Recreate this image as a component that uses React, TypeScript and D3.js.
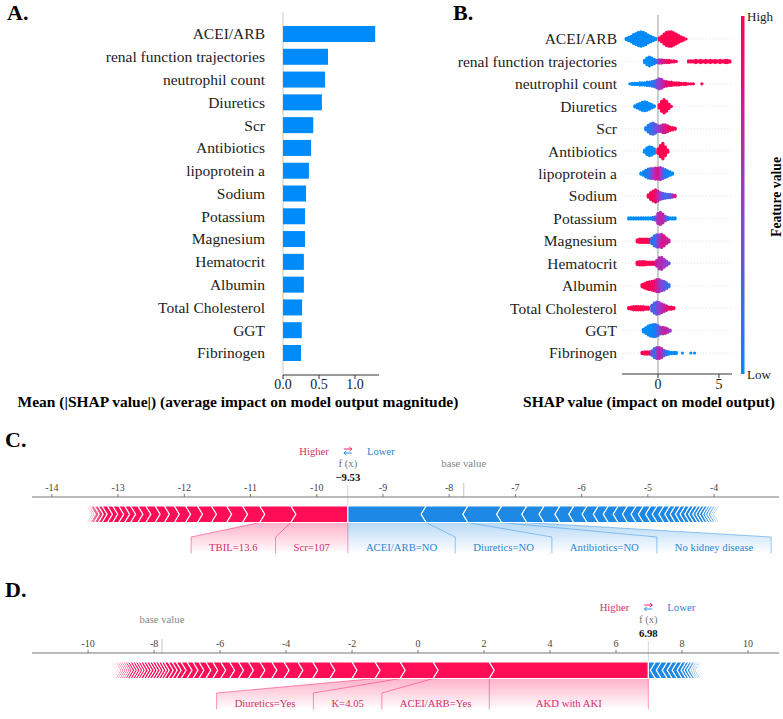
import React from "react";
import * as d3 from "d3";

// ---------- Panel A / B data ----------
const FEATURES = [
  "ACEI/ARB", "renal function trajectories", "neutrophil count", "Diuretics", "Scr",
  "Antibiotics", "lipoprotein a", "Sodium", "Potassium", "Magnesium", "Hematocrit",
  "Albumin", "Total Cholesterol", "GGT", "Fibrinogen",
];
const MEAN_ABS_SHAP = [1.28, 0.625, 0.583, 0.54, 0.42, 0.39, 0.36, 0.32, 0.305, 0.305, 0.29, 0.29, 0.265, 0.26, 0.25];
const BAR_TICKS = [0, 0.5, 1.0];
const SWARM_TICKS = [0, 5];

// beeswarm bins: [SHAP value, number of points, normalised feature value 0..1]
const SW_ACEI = [[-2.6,2,0],[-2.4,4,0],[-2.2,6,0],[-2.0,9,0],[-1.8,11,0],[-1.6,13,0],[-1.4,14,0],[-1.2,13,0],[-1.0,11,0],[-0.8,8,0],[-0.6,6,0],[-0.4,4,0],[-0.2,2,0],
  [0.1,3,1],[0.3,6,1],[0.5,10,1],[0.7,13,1],[0.9,14,1],[1.1,14,1],[1.3,12,1],[1.5,10,1],[1.7,7,1],[1.9,5,1],[2.1,3,1],[2.3,1,1]];
const SW_RENAL = [[-1.1,3,0],[-0.9,7,0],[-0.7,9,0],[-0.5,7,0],[-0.3,5,0.05],[-0.1,3,0.2],[0.1,4,0.6],[0.3,4,0.75],[0.5,3,0.8],[0.7,3,0.9],[0.9,3,1],[1.1,2,1],[1.3,2,1],[1.5,1,1],
  [2.5,2,1],[2.7,2,1],[2.9,2,1],[3.1,3,1],[3.3,2,1],[3.5,3,1],[3.7,2,1],[3.9,3,1],[4.1,2,1],[4.3,3,1],[4.5,2,1],[4.7,3,1],[4.9,2,1],[5.1,3,1],[5.3,2,1],[5.5,3,1],[5.7,3,1],[5.9,2,1]];
const SW_NEUT = [[-2.3,1,0],[-2.1,2,0],[-1.9,2,0],[-1.7,2,0],[-1.5,3,0],[-1.3,3,0],[-1.1,3,0],[-0.9,4,0],[-0.7,4,0.05],[-0.5,5,0.1],[-0.3,6,0.2],[-0.1,8,0.35],[0.1,10,0.5],[0.3,9,0.6],[0.5,6,0.75],[0.7,5,0.85],[0.9,4,0.9],[1.1,4,1],[1.3,3,1],[1.5,3,1],[1.7,3,1],[1.9,2,1],[2.1,2,1],[2.3,2,1],[2.5,1,1],[2.7,1,1],[2.9,1,1],[3.6,1,1]];
const SW_DIUR = [[-1.9,2,0],[-1.7,4,0],[-1.5,6,0],[-1.3,8,0],[-1.1,9,0],[-0.9,8,0],[-0.7,6,0],[-0.5,4,0],[-0.3,2,0],[0.1,4,1],[0.3,10,1],[0.5,13,1],[0.7,10,1],[0.9,5,1],[1.1,1,1]];
const SW_SCR = [[-1.0,3,0.05],[-0.8,7,0.1],[-0.6,10,0.15],[-0.4,11,0.25],[-0.2,9,0.3],[0.0,6,0.45],[0.2,6,0.6],[0.4,8,0.7],[0.6,8,0.8],[0.8,6,0.9],[1.0,4,1],[1.2,3,1],[1.4,2,1]];
const SW_ANTI = [[-1.1,3,0],[-0.9,7,0],[-0.7,9,0],[-0.5,8,0],[-0.3,5,0],[0.0,5,1],[0.2,11,1],[0.4,15,1],[0.6,9,1],[0.8,3,1]];
const SW_LPA = [[-1.4,2,0],[-1.2,4,0],[-1.0,7,0.05],[-0.8,9,0.15],[-0.6,10,0.3],[-0.4,10,0.5],[-0.2,11,0.7],[0.0,11,0.8],[0.2,12,0.55],[0.4,10,0.35],[0.6,8,0.15],[0.8,6,0.05],[1.0,4,0],[1.2,2,0]];
const SW_NA = [[-0.8,3,1],[-0.6,7,1],[-0.4,10,0.95],[-0.2,12,0.9],[0.0,10,0.7],[0.2,7,0.45],[0.4,6,0.3],[0.6,5,0.2],[0.8,4,0.2],[1.0,4,0.35],[1.2,3,0.6],[1.4,2,0.8]];
const SW_K = [[-2.4,2,0],[-2.2,2,0],[-2.0,2,0],[-1.8,2,0],[-1.6,2,0],[-1.4,2,0],[-1.2,2,0],[-1.0,2,0],[-0.8,2,0],[-0.6,2,0],[-0.4,3,0.1],[-0.2,4,0.3],[0.0,10,0.6],[0.2,12,0.65],[0.4,9,0.7],[0.6,5,0.5],[0.8,3,0.1],[1.0,2,0],[1.2,2,0],[1.4,2,0]];
const SW_MG = [[-1.7,3,1],[-1.5,4,1],[-1.3,4,1],[-1.1,4,1],[-0.9,4,1],[-0.7,4,0.9],[-0.5,6,0.2],[-0.3,10,0.15],[-0.1,12,0.3],[0.1,12,0.55],[0.3,13,0.7],[0.5,10,0.8],[0.7,6,0.75],[0.9,3,0.7]];
const SW_HCT = [[-1.7,3,1],[-1.5,4,1],[-1.3,4,1],[-1.1,4,1],[-0.9,3,1],[-0.7,3,1],[-0.5,3,0.95],[-0.3,3,0.9],[-0.1,6,0.7],[0.1,11,0.6],[0.3,12,0.65],[0.5,8,0.55],[0.7,5,0.45],[0.9,2,0.35]];
const SW_ALB = [[-1.3,3,1],[-1.1,5,1],[-0.9,7,1],[-0.7,8,1],[-0.5,9,0.95],[-0.3,10,0.9],[-0.1,12,0.75],[0.1,12,0.6],[0.3,10,0.45],[0.5,9,0.35],[0.7,6,0.25],[0.9,3,0.15]];
const SW_TC = [[-2.4,2,1],[-2.2,3,1],[-2.0,4,1],[-1.8,4,1],[-1.6,4,1],[-1.4,4,1],[-1.2,4,1],[-1.0,3,1],[-0.8,3,1],[-0.5,6,0.3],[-0.3,10,0.2],[-0.1,12,0.35],[0.1,11,0.5],[0.3,9,0.6],[0.5,7,0.7],[0.7,5,0.8],[0.9,3,0.9],[1.1,3,1],[1.3,2,1]];
const SW_GGT = [[-1.2,3,0],[-1.0,6,0],[-0.8,9,0],[-0.6,11,0],[-0.4,12,0.05],[-0.2,12,0.1],[0.0,10,0.25],[0.2,7,0.55],[0.4,7,0.65],[0.6,6,0.7],[0.8,4,0.65],[1.0,2,0.5]];
const SW_FIB = [[-1.3,2,1],[-1.1,3,1],[-0.9,3,1],[-0.7,3,1],[-0.5,5,0.35],[-0.3,9,0.2],[-0.1,11,0.45],[0.1,11,0.7],[0.3,9,0.6],[0.5,6,0.35],[0.7,4,0.15],[0.9,3,0],[1.1,2,0],[1.3,2,0],[1.5,2,0],[2.0,1,0],[2.7,1,0],[3.0,1,0]];
const SWARM_BINS = [SW_ACEI, SW_RENAL, SW_NEUT, SW_DIUR, SW_SCR, SW_ANTI, SW_LPA, SW_NA, SW_K, SW_MG, SW_HCT, SW_ALB, SW_TC, SW_GGT, SW_FIB];

// ---------- Panel C data ----------
const FX_C = -9.53;
const BASE_C = -7.78;
const POS_C = [0.86, 0.47, 0.26, 0.24, 0.23, 0.21, 0.18, 0.17, 0.15, 0.14, 0.14, 0.12, 0.11, 0.09, 0.09, 0.09, 0.08, 0.08, 0.06, 0.06, 0.06, 0.03, 0.03];
const POS_NAMES_C = ["Scr=107", "TBIL=13.6"];
const NEG_C = [1.18, 0.63, 0.51, 0.38, 0.26, 0.24, 0.21, 0.20, 0.17, 0.15, 0.15, 0.14, 0.13, 0.11, 0.11, 0.10, 0.10, 0.09, 0.08, 0.08, 0.07, 0.07, 0.06, 0.06, 0.05, 0.05, 0.05, 0.04, 0.04, 0.04, 0.03, 0.03, 0.02];
const NEG_NAMES_C = ["ACEI/ARB=NO", "Diuretics=NO", "Antibiotics=NO", "No kidney disease"];
const TICKS_C = [-14, -13, -12, -11, -10, -9, -8, -7, -6, -5, -4];

// ---------- Panel D data ----------
const FX_D = 6.98;
const BASE_D = -7.76;
const POS_D = [4.82, 1.70, 1.00, 0.76, 0.70, 0.67, 0.52, 0.45, 0.42, 0.37, 0.36, 0.35, 0.30, 0.27, 0.27, 0.24, 0.21, 0.21, 0.18, 0.18, 0.18, 0.15, 0.12, 0.12, 0.12, 0.09, 0.09, 0.09, 0.09, 0.09, 0.09, 0.09, 0.09, 0.08, 0.08, 0.08, 0.08, 0.08, 0.07, 0.06, 0.06, 0.06, 0.06, 0.06, 0.045, 0.045, 0.045];
const POS_NAMES_D = ["AKD with AKI", "ACEI/ARB=Yes", "K=4.05", "Diuretics=Yes"];
const NEG_D = [0.21, 0.18, 0.18, 0.15, 0.15, 0.15, 0.12, 0.09, 0.09, 0.09, 0.06, 0.06, 0.06, 0.045, 0.045];
const NEG_NAMES_D: string[] = [];
const TICKS_D = [-10, -8, -6, -4, -2, 0, 2, 4, 6, 8, 10];

// ---------- styling ----------
const SERIF = "'Liberation Serif', 'Times New Roman', serif";
const SHAP_BLUE = "#008bfb";
const FORCE_RED = "#ff0d57";
const FORCE_BLUE = "#1e88e5";
const RED_TEXT = "#d3306c";
const BLUE_TEXT = "#2d86d2";
const colorScale = d3.scaleLinear<string>().domain([0, 0.5, 1]).range(["#008bfb", "#9a3ad3", "#ff0052"]);

let _ctx: CanvasRenderingContext2D | null = null;
function measure(s: string, font: string) {
  if (!_ctx) _ctx = document.createElement("canvas").getContext("2d");
  if (!_ctx) return s.length * 6;
  _ctx.font = font;
  return _ctx.measureText(s).width;
}

function PanelA() {
  const x = d3.scaleLinear().domain([0, 1.333]).range([283, 379]);
  const y = d3.scalePoint<string>().domain(FEATURES).range([34, 353]);
  return (
    <g>
      <text x={7} y={20} fontSize={22} fontWeight="bold">A.</text>
      <line x1={x(0)} x2={x(0)} y1={12} y2={375} stroke="#c8c8c8" />
      {FEATURES.map((f, i) => (
        <g key={f}>
          <text x={265} y={y(f)!} dy="0.35em" textAnchor="end" fontSize={15.5} fill="#222">{f}</text>
          <rect x={x(0)} y={y(f)! - 8} width={x(MEAN_ABS_SHAP[i]) - x(0)} height={16} fill={SHAP_BLUE} />
        </g>
      ))}
      <line x1={x.range()[0]} x2={x.range()[1]} y1={375} y2={375} stroke="#333" />
      {BAR_TICKS.map((t) => (
        <g key={t}>
          <line x1={x(t)} x2={x(t)} y1={375} y2={379} stroke="#333" />
          <text x={x(t)} y={389} textAnchor="middle" fontSize={14} fill="#222">{d3.format(".1f")(t)}</text>
        </g>
      ))}
      <text x={238} y={407} textAnchor="middle" fontSize={15.5} fontWeight="bold">Mean (|SHAP value|) (average impact on model output magnitude)</text>
    </g>
  );
}

function PanelB() {
  const x = d3.scaleLinear().domain([-2.95, 6.07]).range([622, 732]);
  const y = d3.scalePoint<string>().domain(FEATURES).range([39, 353]);
  const r = 1.6, sp = 1.1;
  const dots: { cx: number; cy: number; c: string }[] = [];
  FEATURES.forEach((f, i) => {
    SWARM_BINS[i].forEach(([v, n, fv]) => {
      for (let j = 0; j < n; j++) {
        dots.push({ cx: x(v), cy: y(f)! + (j - (n - 1) / 2) * sp, c: colorScale(fv) });
      }
    });
  });
  return (
    <g>
      <defs>
        <linearGradient id="cbar" x1="0" y1="1" x2="0" y2="0">
          {d3.range(0, 1.0001, 0.1).map((t) => (
            <stop key={t} offset={t} stopColor={colorScale(t)} />
          ))}
        </linearGradient>
      </defs>
      <text x={453} y={20} fontSize={22} fontWeight="bold">B.</text>
      {FEATURES.map((f) => (
        <g key={f}>
          <line x1={622} x2={732} y1={y(f)!} y2={y(f)!} stroke="#e2e2e2" strokeDasharray="1 2" />
          <text x={617} y={y(f)!} dy="0.35em" textAnchor="end" fontSize={15.5} fill="#222">{f}</text>
        </g>
      ))}
      <line x1={x(0)} x2={x(0)} y1={15} y2={374} stroke="#9a9a9a" />
      {dots.map((d, k) => (
        <circle key={k} cx={d.cx} cy={d.cy} r={r} fill={d.c} />
      ))}
      <line x1={622} x2={732} y1={374} y2={374} stroke="#333" />
      {SWARM_TICKS.map((t) => (
        <g key={t}>
          <line x1={x(t)} x2={x(t)} y1={374} y2={378} stroke="#333" />
          <text x={x(t)} y={389} textAnchor="middle" fontSize={14} fill="#222">{t}</text>
        </g>
      ))}
      <text x={649} y={407} textAnchor="middle" fontSize={15.5} fontWeight="bold">SHAP value (impact on model output)</text>
      <rect x={741} y={16} width={3.5} height={358} fill="url(#cbar)" />
      <text x={747} y={16} dy="0.35em" fontSize={13} fill="#222">High</text>
      <text x={747} y={374} dy="0.35em" fontSize={13} fill="#222">Low</text>
      <text transform="translate(776,197) rotate(-90)" textAnchor="middle" dy="0.35em" fontSize={13.7} fontWeight="bold">Feature value</text>
    </g>
  );
}

type Seg = { l: number; r: number; name: string; i: number };

function ForcePlot(props: {
  gid: string; letter: string; letterY: number; fx: number; base: number;
  pos: number[]; posNames: string[]; neg: number[]; negNames: string[];
  ticks: number[]; domain: [number, number]; axisY: number;
}) {
  const { gid, letter, letterY, fx, base, pos, posNames, neg, negNames, ticks, domain, axisY } = props;
  const x = d3.scaleLinear().domain(domain).range([32, 779]);
  const barTop = axisY + 9, barH = 16.5, barBot = barTop + barH, mid = barTop + barH / 2;
  const tip = 5;
  const lt = barBot + 14.5, lb = barBot + 31;
  const lblFont = `10.7px ${SERIF}`;

  let acc = fx;
  const posSegs: Seg[] = pos.map((v, i) => { const r = acc; const l = acc - v; acc = l; return { l, r, name: posNames[i] || "", i }; });
  const posEnd = acc;
  acc = fx;
  const negSegs: Seg[] = neg.map((v, i) => { const l = acc; const r = acc + v; acc = r; return { l, r, name: negNames[i] || "", i }; });
  const negEnd = acc;

  const redPoly = (s: Seg) => {
    const xl = x(s.l), xr = x(s.r), rt = s.i === 0 ? 0 : tip;
    return [[xl, barTop], [xr, barTop], [xr + rt, mid], [xr, barBot], [xl, barBot], [xl + tip, mid]].map((p) => p.join(",")).join(" ");
  };
  const bluePoly = (s: Seg) => {
    const xl = x(s.l), xr = x(s.r), ltp = s.i === 0 ? 0 : tip;
    return [[xl, barTop], [xr, barTop], [xr - tip, mid], [xr, barBot], [xl, barBot], [xl - ltp, mid]].map((p) => p.join(",")).join(" ");
  };

  let boxR = x(fx);
  const posLabels = posSegs.filter((s) => s.name).map((s) => {
    const fw = x(s.r) - x(s.l);
    const w = Math.max(measure(s.name, lblFont) + 36, fw);
    const b = { x0: boxR - w, x1: boxR };
    boxR -= w;
    return { s, b };
  });
  let boxL = x(fx);
  const negLabels = negSegs.filter((s) => s.name).map((s) => {
    const fw = x(s.r) - x(s.l);
    const w = Math.max(measure(s.name, lblFont) + 36, fw);
    const b = { x0: boxL, x1: boxL + w };
    boxL += w;
    return { s, b };
  });

  const fade = 18;
  const fxX = x(fx);
  return (
    <g>
      <defs>
        <linearGradient id={`${gid}-rf`} x1="0" y1="0" x2="0" y2="1">
          <stop offset="0" stopColor={FORCE_RED} stopOpacity={0.32} />
          <stop offset="1" stopColor={FORCE_RED} stopOpacity={0} />
        </linearGradient>
        <linearGradient id={`${gid}-bf`} x1="0" y1="0" x2="0" y2="1">
          <stop offset="0" stopColor={FORCE_BLUE} stopOpacity={0.32} />
          <stop offset="1" stopColor={FORCE_BLUE} stopOpacity={0} />
        </linearGradient>
        <linearGradient id={`${gid}-wl`} x1="0" y1="0" x2="1" y2="0">
          <stop offset="0" stopColor="#fff" stopOpacity={0.75} />
          <stop offset="1" stopColor="#fff" stopOpacity={0} />
        </linearGradient>
        <linearGradient id={`${gid}-wr`} x1="1" y1="0" x2="0" y2="0">
          <stop offset="0" stopColor="#fff" stopOpacity={0.75} />
          <stop offset="1" stopColor="#fff" stopOpacity={0} />
        </linearGradient>
      </defs>
      <text x={5} y={letterY} fontSize={22} fontWeight="bold">{letter}</text>

      {/* header */}
      <text x={fxX - 19} y={axisY - 42} textAnchor="end" fontSize={10.7} fill={RED_TEXT}>Higher</text>
      <text x={fxX + 19} y={axisY - 42} textAnchor="start" fontSize={10.7} fill={BLUE_TEXT}>Lower</text>
      <path d={`M${fxX - 4},${axisY - 48} H${fxX + 4} M${fxX + 1.5},${axisY - 50} L${fxX + 4},${axisY - 48} L${fxX + 1.5},${axisY - 46}`} stroke={FORCE_RED} strokeWidth={0.9} fill="none" />
      <path d={`M${fxX + 4},${axisY - 44} H${fxX - 4} M${fxX - 1.5},${axisY - 46} L${fxX - 4},${axisY - 44} L${fxX - 1.5},${axisY - 42}`} stroke={FORCE_BLUE} strokeWidth={0.9} fill="none" />
      <text x={fxX} y={axisY - 30} textAnchor="middle" fontSize={10.7} fill="#777">f (x)</text>
      <text x={fxX} y={axisY - 16} textAnchor="middle" fontSize={10.7} fontWeight="bold" fill="#111">{d3.format(".2f")(fx)}</text>
      <text x={x(base)} y={axisY - 30} textAnchor="middle" fontSize={10.7} fill="#888">base value</text>
      <line x1={x(base)} x2={x(base)} y1={axisY - 14} y2={axisY} stroke="#c4c4c4" />
      <line x1={fxX} x2={fxX} y1={axisY - 12} y2={barTop} stroke="#d6d6d6" />

      {/* axis */}
      <line x1={32} x2={779} y1={axisY} y2={axisY} stroke="#777" />
      {ticks.map((t) => (
        <g key={t}>
          <line x1={x(t)} x2={x(t)} y1={axisY - 3} y2={axisY} stroke="#777" />
          <text x={x(t)} y={axisY - 6} textAnchor="middle" fontSize={10} fill="#444">{String(t)}</text>
        </g>
      ))}

      {/* label areas */}
      {posLabels.map(({ s, b }) => (
        <g key={`pl${s.i}`}>
          <polygon points={[[x(s.r), barBot], [x(s.l), barBot], [b.x0, lt], [b.x0, lb], [b.x1, lb], [b.x1, lt]].map((p) => p.join(",")).join(" ")} fill={`url(#${gid}-rf)`} />
          <polyline points={`${x(s.l)},${barBot} ${b.x0},${lt} ${b.x0},${lb}`} fill="none" stroke={FORCE_RED} strokeOpacity={0.45} />
          <text x={(b.x0 + b.x1) / 2} y={barBot + 28} textAnchor="middle" fontSize={10.7} fill={RED_TEXT}>{s.name}</text>
        </g>
      ))}
      {negLabels.map(({ s, b }) => (
        <g key={`nl${s.i}`}>
          <polygon points={[[x(s.l), barBot], [x(s.r), barBot], [b.x1, lt], [b.x1, lb], [b.x0, lb], [b.x0, lt]].map((p) => p.join(",")).join(" ")} fill={`url(#${gid}-bf)`} />
          <polyline points={`${x(s.r)},${barBot} ${b.x1},${lt} ${b.x1},${lb}`} fill="none" stroke={FORCE_BLUE} strokeOpacity={0.45} />
          <text x={(b.x0 + b.x1) / 2} y={barBot + 28} textAnchor="middle" fontSize={10.7} fill={BLUE_TEXT}>{s.name}</text>
        </g>
      ))}
      <line x1={fxX} x2={fxX} y1={barBot} y2={lb} stroke={FORCE_RED} strokeOpacity={0.4} />

      {/* bars */}
      {posSegs.slice().reverse().map((s) => (
        <polygon key={`p${s.i}`} points={redPoly(s)} fill={FORCE_RED} stroke="#fff" strokeWidth={1.1} strokeLinejoin="miter" />
      ))}
      {negSegs.slice().reverse().map((s) => (
        <polygon key={`n${s.i}`} points={bluePoly(s)} fill={FORCE_BLUE} stroke="#fff" strokeWidth={1.1} strokeLinejoin="miter" />
      ))}
      <rect x={x(posEnd) - 1} y={barTop - 1} width={fade + 1} height={barH + 2} fill={`url(#${gid}-wl)`} />
      <rect x={x(negEnd) - fade} y={barTop - 1} width={fade + 1} height={barH + 2} fill={`url(#${gid}-wr)`} />
    </g>
  );
}

export default function App() {
  return (
    <svg width={783} height={719} fontFamily={SERIF} style={{ position: "absolute", left: 0, top: 0, display: "block", background: "#fff" }}>
      <rect width={783} height={719} fill="#fff" />
      <PanelA />
      <PanelB />
      <ForcePlot gid="c" letter="C." letterY={447} fx={FX_C} base={BASE_C} pos={POS_C} posNames={POS_NAMES_C}
        neg={NEG_C} negNames={NEG_NAMES_C} ticks={TICKS_C} domain={[-14.30, -3.02]} axisY={497} />
      <ForcePlot gid="d" letter="D." letterY={597} fx={FX_D} base={BASE_D} pos={POS_D} posNames={POS_NAMES_D}
        neg={NEG_D} negNames={NEG_NAMES_D} ticks={TICKS_D} domain={[-11.70, 10.94]} axisY={653} />
    </svg>
  );
}
